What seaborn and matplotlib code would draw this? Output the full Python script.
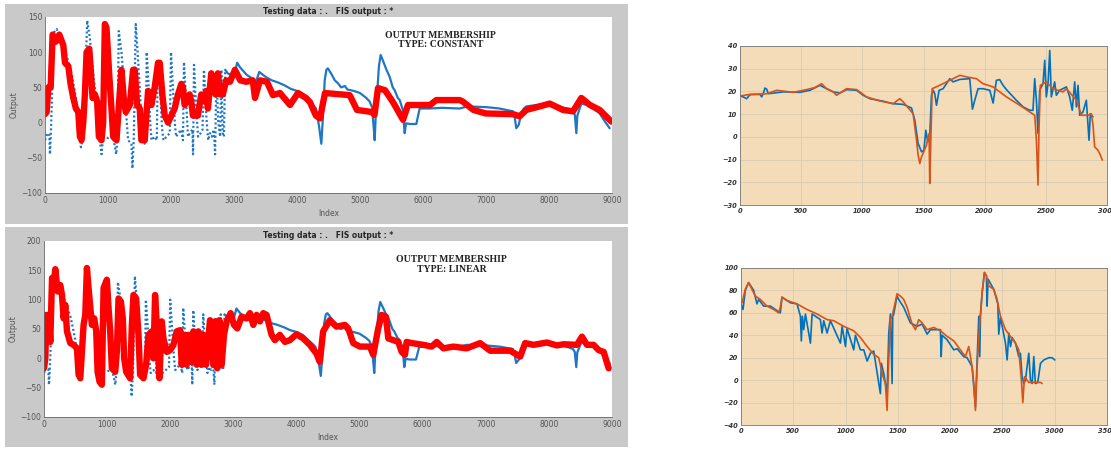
import numpy as np
import pandas as pd
import matplotlib
matplotlib.use("Agg")
import matplotlib.pyplot as plt
from matplotlib.patches import Rectangle
import seaborn as sns

sns.set_style("white")
plt.rcParams['font.family'] = ['DejaVu Sans']

# ---------------- data: left panels (testing data vs FIS output) ----------------
test_idx = [0, 37, 69, 79, 95, 142, 185, 264, 343, 422, 490, 554, 570, 607, 670, 712, 765, 828, 871, 897,
            923, 1000, 1082, 1130, 1150, 1171, 1214, 1266, 1319, 1372, 1388, 1409, 1440, 1470, 1510, 1546,
            1580, 1600, 1614, 1640, 1670, 1690, 1740, 1775, 1790, 1830, 1860, 1880, 1930, 1980, 2000, 2030,
            2060, 2080, 2120, 2160, 2190, 2206, 2240, 2270, 2300, 2340, 2350, 2365, 2400, 2430, 2470, 2500,
            2523, 2560, 2590, 2620, 2650, 2680, 2700, 2720, 2750, 2780, 2800, 2820, 2840, 2860, 2900, 2950,
            3000, 3050, 3100, 3200, 3300, 3350, 3400, 3500, 3600, 3700, 3800, 3900, 4000, 4100, 4200, 4300,
            4350, 4386, 4410, 4440, 4466, 4490, 4540, 4600, 4650, 4700, 4760, 4800, 4900, 5000, 5100, 5153,
            5190, 5220, 5233, 5250, 5300, 5328, 5360, 5420, 5471, 5520, 5550, 5600, 5630, 5680, 5709, 5730,
            5800, 5894, 5947, 6100, 6300, 6582, 6700, 7000, 7217, 7428, 7460, 7481, 7520, 7560, 7600, 7640,
            7800, 8000, 8200, 8275, 8381, 8410, 8434, 8450, 8513, 8600, 8700, 8804, 8900, 8963]
test_val = [-25, -15, -18, -45, -10, 128, 133, 115, 95, 70, 35, -20, -35, -20, 145, 120, 70, 20, -25, -45,
            -20, -22, -20, -45, -20, 130, 100, 40, -25, -30, -65, -25, 140, 100, 40, -25,
            -30, -20, 100, 60, 0, -25, -20, -25, 85, 40, -10, -25, -20, -15, 100, 50,
            0, -20, -15, -10, -25, 86, 30, -20, -15, -10, -45, 82, 20, -20, -15, -10,
            75, 10, -25, -15, -20, -10, -45, 70, 0, -20, 75, -15, -20, 75, 70, 68,
            65, 85, 78, 68, 62, 58, 72, 65, 60, 57, 53, 48, 45, 40, 30, 20,
            -5, -30, 5, 60, 75, 77, 70, 60, 56, 50, 52, 47, 45, 42, 35, 30,
            22, -10, -25, 10, 80, 96, 89, 75, 65, 50, 46, 35, 32, 18, -15, -1,
            -2, -2, 20, 20, 21, 20, 23, 22, 20, 16, 5, -8, -3, 13, 20, 23,
            25, 27, 22, 20, 16, 11, -15, 10, 27, 25, 20, 13, 0, -8]

const_idx = [0, 26, 53, 90, 121, 174, 227, 290, 317, 370, 406, 449, 490, 528, 554, 580, 607, 633, 660, 702,
             723, 755, 792, 828, 855, 897, 923, 950, 976, 1018, 1055, 1082, 1135, 1177, 1214, 1250, 1282,
             1346, 1398, 1425, 1462, 1504, 1530, 1583, 1609, 1636, 1689, 1741, 1794, 1821, 1863, 1900, 1953,
             2005, 2058, 2111, 2164, 2190, 2216, 2269, 2296, 2322, 2348, 2427, 2480, 2533, 2559, 2586, 2639,
             2675, 2707, 2744, 2781, 2823, 2876, 2936, 3015, 3100, 3193, 3298, 3333, 3412, 3523, 3618, 3730,
             3889, 4016, 4142, 4206, 4300, 4365, 4444, 4836, 4952, 5190, 5230, 5286, 5397, 5524, 5683, 5762,
             6111, 6212, 6582, 6630, 6800, 6995, 7428, 7534, 7640, 7850, 8011, 8222, 8381, 8513, 8650, 8804, 8989]
const_val = [12, 15, 50, 50, 125, 115, 125, 110, 85, 80, 55, 35, 20, 15, -20, -25, 0, 40, 100, 105,
             80, 35, 40, 30, -20, -25, 0, 140, 135, 70, 20, -20, -25, 30, 75, 35, 15,
             25, 75, 75, 25, 20, -25, -25, 10, 45, 25, 50, 85, 85, 40, 10, 0,
             10, 20, 40, 55, 50, 25, 35, 40, 30, 10, 10, 40, 30, 45, 20, 70,
             50, 40, 70, 40, 40, 60, 58, 75, 60, 58, 60, 35, 60, 58, 39, 42,
             25, 42, 35, 29, 10, 6, 42, 39, 18, 15, 11, 49, 46, 29, 4, 25,
             25, 32, 32, 30, 18, 13, 12, 9, 18, 23, 27, 18, 16, 35, 25, 18, 1.5]

linear_idx = [0, 21, 37, 58, 74, 100, 111, 127, 153, 179, 216, 258, 285, 311, 337, 364, 416, 469, 522, 548,
              575, 601, 627, 654, 680, 706, 759, 796, 828, 849, 880, 917, 944, 996, 1023, 1049, 1075, 1128,
              1154, 1181, 1218, 1249, 1270, 1302, 1365, 1392, 1418, 1460, 1497, 1523, 1576, 1618, 1655, 1708,
              1734, 1760, 1787, 1829, 1866, 1892, 1945, 1998, 2051, 2103, 2156, 2182, 2235, 2261, 2288, 2340,
              2367, 2420, 2446, 2499, 2525, 2567, 2630, 2683, 2709, 2746, 2778, 2815, 2852, 2894, 2957, 3010,
              3063, 3131, 3210, 3263, 3316, 3368, 3421, 3474, 3527, 3606, 3658, 3737, 3817, 3896, 4001, 4106,
              4212, 4317, 4370, 4423, 4529, 4635, 4767, 4820, 4899, 5005, 5164, 5217, 5296, 5349, 5418, 5455,
              5534, 5614, 5667, 5720, 5746, 5825, 6011, 6143, 6222, 6328, 6487, 6698, 6910, 7069, 7386, 7545,
              7624, 7757, 7968, 8127, 8233, 8444, 8524, 8603, 8709, 8788, 8868, 8947]
linear_val = [-17, 0, 74, 40, 74, 28, 75, 137, 125, 152, 114, 125, 108, 68, 91, 46, 26, 23, 17, -28,
              -34, 11, 57, 74, 154, 120, 57, 68, 46, -23, -40, -45, 120, 134, 85, 46, -17, -23,
              11, 102, 97, 68, 0, -23, -34, 57, 108, 102, 40, -28, -34, -11, 40, 46,
              0, 108, 57, -34, 63, 34, 11, 14, 23, 46, 48, -11, 40, -11, 40, -6,
              46, -11, 46, -11, 40, -11, 65, -11, 63, -17, 65, -11, 40, 63, 77, 57,
              51, 71, 68, 77, 57, 74, 63, 77, 74, 40, 31, 40, 28, 31, 41, 34,
              23, 8, -6, 46, 65, 54, 57, 51, 26, 20, 20, 6, 51, 74, 71, 34,
              31, 28, 11, 6, 28, 26, 23, 20, 28, 17, 20, 17, 26, 13, 13, 3,
              26, 23, 27, 22, 24, 23, 37, 23, 23, 14, 11, -17]

# ---------------- data: right panels ----------------
r1_idx_b = [0, 27, 54, 82, 163, 177, 190, 204, 218, 231, 354, 490, 572, 653, 708, 762, 817, 871, 953, 1007,
            1062, 1170, 1252, 1334, 1402, 1429, 1456, 1484, 1503, 1519, 1535, 1551, 1565, 1579, 1592, 1606,
            1628, 1660, 1715, 1742, 1797, 1878, 1900, 1919, 1946, 1987, 2042, 2069, 2096, 2123, 2150, 2178,
            2259, 2314, 2368, 2395, 2409, 2423, 2436, 2450, 2477, 2491, 2504, 2518, 2532, 2545, 2572, 2586,
            2613, 2668, 2695, 2716, 2736, 2750, 2763, 2777, 2804, 2831, 2853, 2864, 2885]
r1_val_b = [18, 17.6, 16.8, 18.6, 18.7, 17.6, 19, 21.5, 21, 19, 19.8, 19.6, 20.5, 22.7, 21.2, 19.8, 19.3, 20.8, 20.5, 18.3,
            16.8, 15.7, 14.6, 14.3, 12.7, 7.3, -2.9, -6.6, -5.9, 2.9, -2.2, 0, 18.3, 20.5, 19, 13.9,
            20.5, 21.2, 25.6, 24.2, 25.3, 25.6, 12.2, 16.1, 21.2, 21.2, 20.5, 14.9, 24.9, 25.2, 22.7, 20.8,
            16.1, 13.2, 11.7, 11.7, 25.6, 16.1, 1.5, 20.5, 23.4, 33.7, 17.6, 23.4, 38, 17.6, 24.2, 18.3,
            20.5, 22, 17.6, 11.7, 24.2, 13.2, 22.7, 9.5, 11, 16.1, -1.5, 10.2, 8.8]
r1_idx_o = [0, 82, 218, 300, 436, 544, 612, 667, 708, 762, 789, 871, 953, 1007, 1034, 1143, 1252, 1306, 1334,
            1415, 1443, 1456, 1470, 1484, 1524, 1546, 1551, 1560, 1571, 1633, 1715, 1797, 1851, 1933, 1987,
            2069, 2123, 2178, 2287, 2368, 2409, 2423, 2436, 2444, 2455, 2504, 2559, 2640, 2668, 2750, 2791,
            2845, 2872, 2886, 2899, 2926, 2940, 2962]
r1_val_o = [18, 18.7, 19, 20.5, 19.6, 20.8, 21.7, 23.4, 21.2, 19.8, 18.3, 21.2, 20.8, 18.7, 17.6, 15.8, 14.6, 16.8, 15.4,
            10.2, -1.5, -8, -11.7, -8.8, -3.7, 1.5, -20.5, -1.5, 21.2, 22.7, 24.9, 27.1, 26.4, 25.6, 23.4,
            22, 19.8, 17.6, 13.9, 11, 9.5, -1.5, -21.2, 2.9, 22.7, 24.2, 21.2, 19.8, 21.2, 16.1, 9.5,
            9.5, 10.2, 5.1, -4.4, -5.9, -7.3, -10.2]

r2_idx_b = [0, 19, 41, 73, 121, 153, 169, 217, 281, 344, 376, 392, 472, 536, 568, 577, 587, 600, 616, 664,
            680, 759, 775, 791, 823, 855, 951, 967, 999, 1014, 1078, 1094, 1142, 1174, 1206, 1238, 1269,
            1333, 1342, 1365, 1381, 1397, 1413, 1429, 1445, 1451, 1461, 1492, 1508, 1556, 1620, 1684, 1732,
            1780, 1812, 1907, 1914, 1923, 1971, 2035, 2067, 2130, 2162, 2210, 2242, 2258, 2274, 2283, 2290,
            2306, 2328, 2347, 2353, 2363, 2417, 2456, 2465, 2481, 2529, 2545, 2561, 2577, 2593, 2625, 2656,
            2672, 2688, 2704, 2720, 2752, 2768, 2784, 2800, 2815, 2838, 2864, 2896, 2943, 2975, 3001]
r2_val_b = [68, 63, 80, 87, 80, 68, 72, 66, 66, 62, 60, 74, 69, 68, 57, 35, 57, 45, 59, 33,
            59, 54, 42, 53, 42, 53, 33, 48, 30, 46, 27, 40, 27, 27, 17, 24, 26,
            -12, 15, 6, -3, -12, 42, 59, -3, 57, 59, 75, 72, 65, 51, 48, 50,
            41, 45, 45, 21, 40, 36, 27, 28, 21, 20, 12, -24, 18, 57, 21, 57,
            78, 96, 93, 66, 90, 81, 68, 41, 56, 33, 18, 42, 30, 38, 33, 21,
            24, 3, -3, 0, 24, 0, -3, 21, -3, -2, 15, 18, 20, 20, 18]
r2_idx_o = [10, 41, 73, 105, 137, 185, 249, 313, 360, 376, 392, 440, 536, 631, 727, 823, 887, 982, 1078, 1142,
            1206, 1269, 1317, 1359, 1381, 1397, 1413, 1429, 1445, 1467, 1492, 1524, 1556, 1588, 1636, 1668,
            1700, 1732, 1780, 1843, 1907, 1971, 2035, 2098, 2146, 2178, 2210, 2226, 2242, 2258, 2283, 2306,
            2328, 2347, 2370, 2417, 2449, 2481, 2529, 2577, 2625, 2656, 2679, 2695, 2711, 2752, 2864, 2880]
r2_val_o = [69, 81, 87, 81, 75, 72, 66, 63, 60, 65, 74, 71, 68, 63, 59, 54, 53, 48, 44, 38,
            30, 23, 20, 3, -3, -27, 18, 54, 57, 66, 77, 75, 72, 65, 50, 45,
            54, 51, 45, 47, 44, 39, 35, 27, 21, 30, 12, -3, -27, 12, 51, 78,
            96, 93, 84, 81, 72, 57, 45, 39, 33, 27, 3, -20, 3, -2, -2, -3]

left_xticks = [0, 1000, 2000, 3000, 4000, 5000, 6000, 7000, 8000, 9000]
top_left_yticks = [-100, -50, 0, 50, 100, 150]
bottom_left_yticks = [-100, -50, 0, 50, 100, 150, 200]
top_right_xticks = [0, 500, 1000, 1500, 2000, 2500, 3000]
top_right_yticks = [-30, -20, -10, 0, 10, 20, 30, 40]
bottom_right_xticks = [0, 500, 1000, 1500, 2000, 2500, 3000, 3500]
bottom_right_yticks = [-40, -20, 0, 20, 40, 60, 80, 100]

W, H = 1111, 449
fig = plt.figure(figsize=(W / 100, H / 100), dpi=100)
fig.patch.set_facecolor("white")


def frac(x0, y0, x1, y1):
    return [x0 / W, 1 - y1 / H, (x1 - x0) / W, (y1 - y0) / H]


GRAY = "#c9c9c9"
for (y0, y1) in [(4, 224), (227, 447)]:
    r = frac(5, y0, 628, y1)
    fig.patches.append(Rectangle((r[0], r[1]), r[2], r[3], transform=fig.transFigure,
                                 facecolor=GRAY, edgecolor="none", zorder=-10))

BLUE = "#1f77c4"
RED = "#ff0000"

# split point between the sparse (dotted) and the dense part of the testing data
SPLIT = 2860
n_sparse = sum(1 for v in test_idx if v <= SPLIT)


def left_panel(rect, fis_idx, fis_val, yticks, ylim, lines, ann_xy):
    ax = fig.add_axes(frac(*rect))
    ax.set_zorder(1)
    ax.set_facecolor("white")
    # sparse part of the testing data: dotted, like individually plotted samples
    sns.lineplot(x=test_idx[:n_sparse], y=test_val[:n_sparse], ax=ax, color=BLUE, lw=1.6,
                 estimator=None, sort=False, dashes=False, linestyle=(0, (0.9, 1.1)))
    # dense part: reads as a continuous trace
    sns.lineplot(x=test_idx[n_sparse - 1:], y=test_val[n_sparse - 1:], ax=ax, color=BLUE, lw=1.6,
                 estimator=None, sort=False)
    sns.lineplot(x=fis_idx, y=fis_val, ax=ax, color=RED, lw=4.6, estimator=None, sort=False,
                 solid_capstyle="round", solid_joinstyle="round")
    ax.set_xlim(0, 9000)
    ax.set_ylim(*ylim)
    ax.set_xticks(left_xticks)
    ax.set_yticks(yticks)
    ax.tick_params(direction="in", length=2, width=0.5, labelsize=5.5, colors="#555555", pad=2)
    for s in ["top", "right"]:
        ax.spines[s].set_visible(False)
    for s in ["left", "bottom"]:
        ax.spines[s].set_color("#666666")
        ax.spines[s].set_linewidth(0.6)
    ax.set_xlabel("Index", fontsize=5.5, color="#555555", labelpad=3)
    ax.set_ylabel("Output", fontsize=5.5, color="#555555", labelpad=2)
    ax.set_title("Testing data : .   FIS output : *", fontsize=5.5, fontweight="bold", pad=2)
    ax.text(ann_xy[0], ann_xy[1], lines, transform=ax.transAxes, ha="center", va="center",
            family=["Liberation Serif"], fontweight="bold", fontsize=7, linespacing=1.1, color="#222222")
    return ax


left_panel((45, 17, 612, 193), const_idx, const_val, top_left_yticks, (-100, 150),
           "OUTPUT MEMBERSHIP\nTYPE: CONSTANT", (0.697, 0.87))
left_panel((44, 241, 612, 417), linear_idx, linear_val, bottom_left_yticks, (-100, 200),
           "OUTPUT MEMBERSHIP\nTYPE: LINEAR", (0.718, 0.866))

TAN = "#f3dcb7"
MBLUE = "#0072BD"
MORANGE = "#D95319"


def right_panel(rect, bi, bv, oi, ov, xt, yt, xlim, ylim):
    ax = fig.add_axes(frac(*rect))
    ax.set_facecolor(TAN)
    sns.lineplot(x=bi, y=bv, ax=ax, color=MBLUE, lw=1.2, estimator=None, sort=False)
    sns.lineplot(x=oi, y=ov, ax=ax, color=MORANGE, lw=1.2, estimator=None, sort=False)
    ax.set_xlim(*xlim)
    ax.set_ylim(*ylim)
    ax.set_xticks(xt)
    ax.set_yticks(yt)
    ax.grid(True, color="#d9cbb3", lw=0.6)
    ax.set_axisbelow(True)
    ax.tick_params(direction="in", length=0, labelsize=4.8, colors="#333333", pad=2)
    for lab in ax.get_xticklabels() + ax.get_yticklabels():
        lab.set_fontstyle("italic")
        lab.set_fontweight("bold")
    for s in ax.spines.values():
        s.set_color("#777777")
        s.set_linewidth(0.6)
    ax.set_xlabel("")
    ax.set_ylabel("")
    return ax


right_panel((740, 46, 1107, 205), r1_idx_b, r1_val_b, r1_idx_o, r1_val_o,
            top_right_xticks, top_right_yticks, (0, 3000), (-30, 40))
right_panel((741, 268, 1107, 425), r2_idx_b, r2_val_b, r2_idx_o, r2_val_o,
            bottom_right_xticks, bottom_right_yticks, (0, 3500), (-40, 100))

fig.savefig("out.png", dpi=100)
